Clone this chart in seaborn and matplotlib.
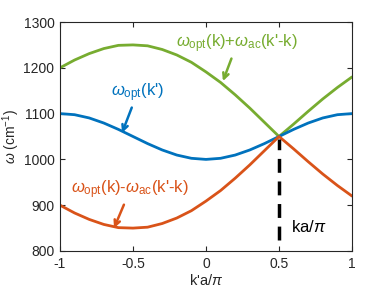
import numpy as np
import pandas as pd
import seaborn as sns
import matplotlib.pyplot as plt

# k'a/pi grid and the three dispersion curves
k_prime = [-1.0, -0.9, -0.8, -0.7, -0.6, -0.5, -0.4, -0.3, -0.2, -0.1, 0.0,
           0.1, 0.2, 0.3, 0.4, 0.5, 0.6, 0.7, 0.8, 0.9, 1.0]
w_opt = [1100, 1097.6, 1090.5, 1079.4, 1065.5, 1050, 1034.5, 1020.6, 1009.5, 1002.4, 1000,
         1002.4, 1009.5, 1020.6, 1034.5, 1050, 1065.5, 1079.4, 1090.5, 1097.6, 1100]
w_sum = [1200, 1217, 1231, 1242, 1249, 1250, 1248, 1240, 1228, 1212, 1191,
         1168, 1141, 1112, 1081, 1050, 1077, 1105, 1132, 1157, 1180]
w_diff = [900, 883, 869, 858, 851, 850, 852, 860, 872, 888, 909,
          932, 959, 988, 1019, 1050, 1023, 995, 968, 943, 920]

# vertical marker at k
ka_x = [0.5, 0.5]
ka_y = [825, 1045]

blue = '#0072BD'
orange = '#D95319'
green = '#77AC30'

df = pd.DataFrame({'k': k_prime, 'opt': w_opt, 'sum': w_sum, 'diff': w_diff})

sns.set_style('ticks')
plt.rcParams['font.family'] = ['Liberation Sans', 'DejaVu Sans']
plt.rcParams['mathtext.fontset'] = 'custom'
plt.rcParams['mathtext.rm'] = 'Liberation Sans'
plt.rcParams['mathtext.it'] = 'Liberation Sans:italic'

fig = plt.figure(figsize=(3.89, 2.92), dpi=100)
ax = fig.add_axes([60/389, 1-251/292, 292/389, 229/292])

sns.lineplot(data=df, x='k', y='sum', color=green, lw=2, ax=ax)
sns.lineplot(data=df, x='k', y='opt', color=blue, lw=2, ax=ax)
sns.lineplot(data=df, x='k', y='diff', color=orange, lw=2, ax=ax)
ax.plot(ka_x, ka_y, color='black', lw=2.5, dashes=(4, 2.5))

ax.set_xlim(-1, 1)
ax.set_ylim(800, 1300)
ax.set_xticks([-1, -0.5, 0, 0.5, 1])
ax.set_xticklabels(['-1', '-0.5', '0', '0.5', '1'])
ax.set_yticks([800, 900, 1000, 1100, 1200, 1300])
ax.tick_params(direction='in', top=True, right=True, length=3.5, width=0.8,
               labelsize=10, colors='#262626', pad=4)
for s in ax.spines.values():
    s.set_color('#262626')
    s.set_linewidth(0.8)

ax.set_xlabel("k'a/$\\pi$", fontsize=10.5, color='#262626', labelpad=2)
ax.set_ylabel("$\\omega$ (cm$^{-1}$)", fontsize=10, color='#262626', labelpad=1)

arr = dict(arrowstyle='->', lw=1.8, mutation_scale=10)
ax.annotate("$\\omega_{\\rm opt}$(k')", xy=(-0.575, 1058), xytext=(-0.47, 1145),
            color=blue, fontsize=12, ha='center', va='center',
            arrowprops=dict(color=blue, shrinkA=0, shrinkB=0, **arr))
ax.annotate("$\\omega_{\\rm opt}$(k)+$\\omega_{\\rm ac}$(k'-k)", xy=(0.116, 1171),
            xytext=(0.212, 1252), color=green, fontsize=12, ha='center', va='center',
            arrowprops=dict(color=green, shrinkA=0, shrinkB=0, **arr))
ax.annotate("$\\omega_{\\rm opt}$(k)-$\\omega_{\\rm ac}$(k'-k)", xy=(-0.63, 850),
            xytext=(-0.52, 933), color=orange, fontsize=12, ha='center', va='center',
            arrowprops=dict(color=orange, shrinkA=0, shrinkB=0, **arr))
ax.text(0.58, 852, "ka/$\\pi$", fontsize=12, color='black', ha='left', va='center')

plt.savefig('out.png', dpi=100)
